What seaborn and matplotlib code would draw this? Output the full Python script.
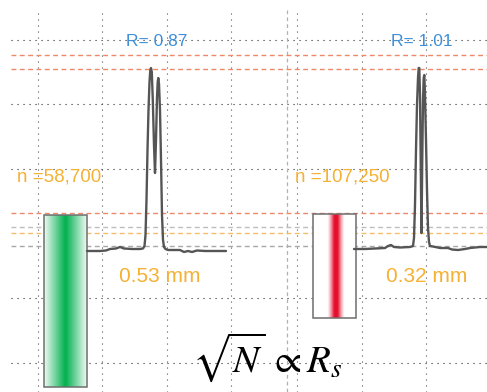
import numpy as np
import pandas as pd
import matplotlib
matplotlib.use("Agg")
import matplotlib.pyplot as plt
import seaborn as sns
from matplotlib.colors import to_rgb

sns.set_style("white")
plt.rcParams['font.family'] = ['Liberation Sans', 'DejaVu Sans']
plt.rcParams['mathtext.fontset'] = 'stix'

# ---------------- data (canvas units = pixels, y downward) ----------------
# chromatogram traces
left_x = [87, 100, 106, 110, 116, 120, 124, 132, 140, 143, 144.5, 145.5, 146.5, 147.5, 148.5, 149.5,
          150.3, 151, 151.8, 152.8, 154, 155, 156, 157, 157.7, 158.3, 159, 160, 161, 162, 163,
          164, 165.5, 168, 175, 180, 184, 188, 192, 197, 205, 215, 226]
left_y = [251, 251, 250.5, 249, 248.5, 247, 248.5, 249, 249, 248.5, 246, 235, 200, 150, 110, 82,
          70, 68, 72, 100, 145, 173, 140, 98, 82, 78, 84, 110, 160, 215, 240,
          247, 249, 250, 250, 250, 252, 251, 252, 250.5, 251, 251, 251]

right_x = [354, 365, 375, 385, 388, 391, 394, 400, 410, 413, 414, 415, 416, 417, 418, 418.7, 419.3,
           420, 420.8, 421.5, 422.2, 423, 423.7, 424.3, 425, 426, 427, 428, 429, 430, 433,
           440, 448, 452, 458, 465, 470, 480, 487]
right_y = [249, 249, 248.5, 248, 246, 245, 247, 247.5, 247, 246, 238, 205, 150, 105, 78, 68, 68,
           95, 170, 233, 165, 100, 78, 75, 95, 140, 190, 228, 242, 246, 246.5,
           248, 248, 249.5, 250, 249, 248, 247, 247]

# reference lines
grid_v = [38, 102, 167, 231, 297, 362, 426]
grid_h = [40, 104, 169, 298, 363]
dash_h = [55, 69, 213, 227, 233, 246]
dash_h_colors = ['#ee8868', '#ee8868', '#ee8868', '#bdbdbd', '#f5bd6a', '#a8a8a8']
divider_x = [287]

# labels
r_labels = ["R= 0.87", "R= 1.01"]
r_pos = [(157, 41), (422, 41)]
n_labels = ["n =58,700", "n =107,250"]
n_pos = [(17, 177), (295, 177)]
w_labels = ["0.53 mm", "0.32 mm"]
w_pos = [(160, 277), (427, 277)]

# column illustrations: (x0, x1, y0, y1)
col_green = (44, 87, 215, 387)
col_red = (313, 356, 214, 318)
green_rgb = '#00b04f'
red_rgb = '#e3102e'

# ---------------- figure ----------------
W, H = 487, 392
fig = plt.figure(figsize=(W / 100, H / 100), dpi=100)
ax = fig.add_axes([0, 0, 1, 1])
ax.set_xlim(0, W)
ax.set_ylim(H, 0)
ax.axis('off')

dot = (0, (1, 4.4))
for x in grid_v:
    ax.plot([x, x], [13, H], color='#555555', lw=0.8, ls=dot, zorder=1)
for y in grid_h:
    ax.plot([11, W], [y, y], color='#2a2a2a', lw=0.8, ls=dot, zorder=1)
for x in divider_x:
    ax.plot([x, x], [10, H], color='#b0b0b0', lw=0.9, ls=(0, (3, 2.5)), zorder=1)
for y, c in zip(dash_h, dash_h_colors):
    ax.plot([11, W], [y, y], color=c, lw=1.0, ls=(0, (3.5, 2.5)), zorder=2)

# columns with gradients
def column(box, color, profile):
    x0, x1, y0, y1 = box
    n = 200
    t = np.linspace(-1, 1, n)
    w = profile(t)
    c = np.array(to_rgb(color))
    img = (1 - w[:, None]) * np.ones(3) + w[:, None] * c
    img = np.tile(img[None, :, :], (2, 1, 1))
    ax.imshow(img, extent=(x0, x1, y1, y0), aspect='auto', zorder=3, interpolation='bilinear')
    ax.add_patch(plt.Rectangle((x0, y0), x1 - x0, y1 - y0, fill=False,
                               ec='#6e6e6e', lw=1.1, zorder=4))

column(col_green, green_rgb, lambda t: 0.06 + 0.94 * (1 - np.abs(t)) ** 1.0)
column(col_red, red_rgb, lambda t: np.clip(1 - (np.abs(t - 0.07) - 0.08) / 0.32, 0, 1) ** 1.3)

# traces
df_l = pd.DataFrame({'x': left_x, 'y': left_y})
df_r = pd.DataFrame({'x': right_x, 'y': right_y})
for df in (df_l, df_r):
    sns.lineplot(data=df, x='x', y='y', sort=False, estimator=None, ax=ax,
                 color='#555555', lw=1.7, zorder=5, solid_joinstyle='round')
ax.set_xlim(0, W)
ax.set_ylim(H, 0)
ax.axis('off')

blue = '#3d8fda'
orange = '#f4b134'
for s, (x, y) in zip(r_labels, r_pos):
    ax.text(x, y, s, color=blue, fontsize=12.5, ha='center', va='center', zorder=6)
for s, (x, y) in zip(n_labels, n_pos):
    ax.text(x, y, s, color=orange, fontsize=13.5, ha='left', va='center', zorder=6)
for s, (x, y) in zip(w_labels, w_pos):
    ax.text(x, y, s, color=orange, fontsize=15, ha='center', va='center', zorder=6)

ax.text(192, 372, r'$\sqrt{N}\,\propto R_s$', fontsize=28, ha='left', va='baseline',
        color='black', zorder=6)

fig.savefig('out.png', dpi=100)
